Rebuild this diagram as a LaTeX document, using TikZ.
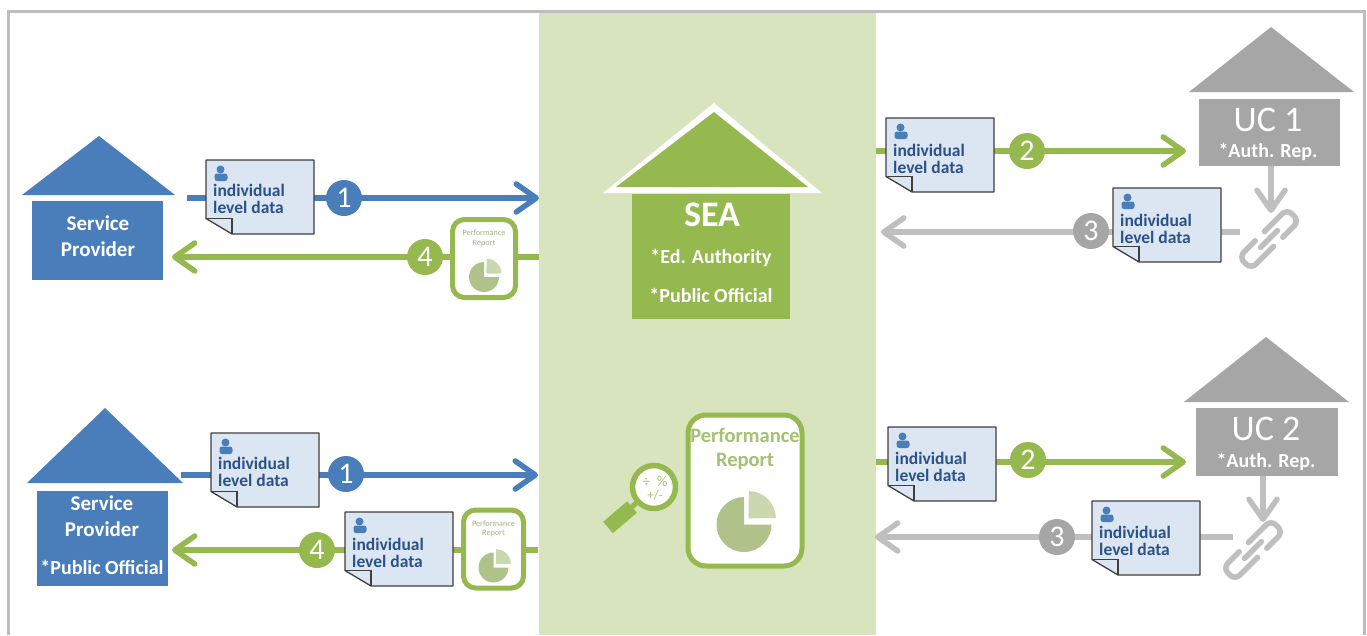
\documentclass[tikz,border=0pt]{standalone}
\usepackage{fontspec}
\setmainfont{Carlito}
\usetikzlibrary{arrows.meta}
\definecolor{bluec}{HTML}{4A7EBB}
\definecolor{greenc}{HTML}{95B84F}
\definecolor{panelc}{HTML}{D7E4BD}
\definecolor{grayc}{HTML}{A6A6A6}
\definecolor{lgrayc}{HTML}{BFBFBF}
\definecolor{framec}{HTML}{BDBDBD}
\definecolor{docc}{HTML}{DCE6F2}
\definecolor{docline}{HTML}{3F3F3F}
\definecolor{doctxt}{HTML}{2B5288}
\definecolor{piedark}{HTML}{AEC28A}
\definecolor{pielight}{HTML}{CAD8B0}
\definecolor{reptxt}{HTML}{A5C172}
\definecolor{smalltxt}{HTML}{A3B28A}
\pgfdeclarelayer{bg}
\pgfdeclarelayer{conn}
\pgfsetlayers{bg,conn,main}
\tikzset{
  x=1pt,y=-1pt,
  conline/.style={line width=5.5pt,-{Straight Barb[length=20pt,width=28pt,round]}},
  badge/.style={circle,minimum size=36pt,inner sep=0pt,text=white,font=\fontsize{30}{30}\selectfont},
  docshape/.style={fill=docc,draw=docline,line width=1.3pt,line join=round},
  doctext/.style={text=doctxt,font=\fontsize{17.5}{18}\selectfont\bfseries,align=left,inner sep=0pt,anchor=west},
  housebox/.style={inner sep=0pt,anchor=north west},
  htext/.style={text=white,inner sep=0pt,font=\fontsize{20}{20}\selectfont\bfseries},
  sptext/.style={text=white,inner sep=0pt,font=\fontsize{21}{21}\selectfont\bfseries},
  repbox/.style={draw=greenc,fill=white,line width=5pt,rounded corners=#1},
  chainlink/.style={draw=lgrayc,line width=5.5pt,rounded corners=7pt,line cap=round},
}
\newcommand{\docbox}[4]{%
  \path[docshape] (#2,#3) -- ++(108,0) -- ++(0,74) -- ++(-82,0) -- ++(-26,-15.5) -- cycle;
  \draw[docline,line width=1.3pt] (#2,#3+58.5) -- ++(26,0) -- ++(0,15.5);
  \fill[bluec] (#2+14.5,#3+9.5) circle[radius=4pt];
  \fill[bluec,rounded corners=2.5pt] (#2+8.5,#3+21) -- ++(0,-7.5) -- ++(13,0) -- ++(0,7.5) -- cycle;
  \node[doctext] (#1) at (#2+7,#3+#4) {individual\\[-0.5pt]level data};
}
\newcommand{\reppie}[3]{%
  \fill[piedark] (#1,#2) -- ++(0:#3 pt) arc[start angle=0,end angle=-270,radius=#3 pt] -- cycle;
  \fill[pielight] (#1+#3*0.16,#2-#3*0.22) -- ++(1:#3 pt) arc[start angle=1,end angle=89,radius=#3 pt] -- cycle;
}
\newcommand{\smallrep}[5]{%
  \node[repbox=12pt,minimum width=#4 pt,minimum height=#5 pt,inner sep=0pt] (#1) at (#2,#3) {};
  \node[text=smalltxt,font=\fontsize{8.2}{9.5}\selectfont,align=center,inner sep=0pt] (#1t) at (#2,#3-20) {Performance\\Report};
  \reppie{#2}{#3+18.5}{15}
}
\newcommand{\chainicon}[3]{%
  \begin{scope}[shift={(#2,#3)},rotate=45]
    \draw[chainlink] (2,-8.5) -- (34,-8.5) -- (34,8.5) -- (11,8.5);
    \draw[chainlink] (-2,8.5) -- (-34,8.5) -- (-34,-8.5) -- (-11,-8.5);
    \draw[chainlink] (-12,0) -- (12,0);
    \coordinate (#1) at (0,0);
  \end{scope}
}
\begin{document}
\begin{tikzpicture}
\useasboundingbox (0,0) rectangle (1367,635);
\begin{pgfonlayer}{bg}
  \fill[white] (0,0) rectangle (1367,635);
  \draw[framec,line width=3.5pt] (8.5,635) -- (8.5,11.5) -- (1364.5,11.5) -- (1364.5,635);
  \fill[panelc] (539,13) rectangle (876,635);
\end{pgfonlayer}

% SEA
\fill[white] (603,193) -- (714,103) -- (822,193) -- cycle;
\fill[greenc] (616,187) -- (714,112) -- (808,187) -- cycle;
\node[housebox,fill=greenc,minimum width=158pt,minimum height=125pt] (sea) at (632,193.5) {};
\node[htext,font=\fontsize{36}{36}\selectfont\bfseries] (seat) at (712,215) {SEA};
\node[htext] (seaa) at (711,258) {*Ed. Authority};
\node[htext] (seab) at (711,295) {*Public Official};

% Service Provider 1
\fill[bluec] (22,195) -- (99,136) -- (175,195) -- cycle;
\node[housebox,fill=bluec,minimum width=131pt,minimum height=79pt] (sp1) at (32,201) {};
\node[sptext] (sp1a) at (98,223) {Service};
\node[sptext] (sp1b) at (98,249) {Provider};

% Service Provider 2
\fill[bluec] (27,483) -- (105,408) -- (183,483) -- cycle;
\node[housebox,fill=bluec,minimum width=131pt,minimum height=95pt] (sp2) at (37,491) {};
\node[sptext] (sp2a) at (102,503) {Service};
\node[sptext] (sp2b) at (102,529) {Provider};
\node[htext] (sp2c) at (102,567) {*Public Official};

% UC 1
\fill[grayc] (1189,92) -- (1271,27) -- (1354,92) -- cycle;
\node[housebox,fill=grayc,minimum width=141pt,minimum height=67pt] (uc1) at (1199,99) {};
\node[htext,font=\fontsize{36}{36}\selectfont] (uc1a) at (1268,120) {UC 1};
\node[htext] (uc1b) at (1268,152) {*Auth. Rep.};

% UC 2
\fill[grayc] (1184,402) -- (1266,337) -- (1349,402) -- cycle;
\node[housebox,fill=grayc,minimum width=142pt,minimum height=68pt] (uc2) at (1196,408) {};
\node[htext,font=\fontsize{36}{36}\selectfont] (uc2a) at (1266,429) {UC 2};
\node[htext] (uc2b) at (1266,462) {*Auth. Rep.};

% chains
\chainicon{chain1}{1269}{239}
\chainicon{chain2}{1253}{550}

% documents
\docbox{d1}{206}{160}{39}
\docbox{d2}{211}{433}{39}
\docbox{d3}{345}{512}{41}
\docbox{d4}{886}{118}{41}
\docbox{d5}{1113}{188}{41}
\docbox{d6}{888}{427}{40}
\docbox{d7}{1092}{501}{40}

% small reports
\smallrep{r1}{484}{258.5}{63}{78}
\smallrep{r2}{493.5}{549}{60}{78}

% badges
\node[badge,fill=bluec] (b1) at (344,198) {1};
\node[badge,fill=greenc] (b2) at (425,257) {4};
\node[badge,fill=bluec] (b3) at (346,474) {1};
\node[badge,fill=greenc] (b4) at (317,550) {4};
\node[badge,fill=greenc] (b5) at (1027,151) {2};
\node[badge,fill=grayc] (b6) at (1091,231) {3};
\node[badge,fill=greenc] (b7) at (1028,460) {2};
\node[badge,fill=grayc] (b8) at (1057,537) {3};

% big report
\node[repbox=18pt,minimum width=114pt,minimum height=151pt,inner sep=0pt] (rep) at (745,490.5) {};
\node[text=reptxt,font=\fontsize{20.5}{24}\selectfont\bfseries,align=center,inner sep=0pt] (rept) at (745,449) {Performance\\Report};
\reppie{744}{524.5}{27.5}

% magnifier
\coordinate (hs) at (632,507);
\coordinate (he) at (608,527.5);
\draw[greenc,line width=5pt] (642,497) -- (hs);
\draw[greenc,line width=15pt] (hs) -- (he);
\node[circle,draw=greenc,fill=white,line width=5.5pt,minimum size=43pt,inner sep=0pt] (mag) at (654,487) {};
\node[text=reptxt,align=center,inner sep=0pt] (magt) at (655,488.5) {\fontsize{15}{15}\selectfont ÷\ \ \%\\[1pt]\fontsize{13}{13}\selectfont +/-};

% connectors
\coordinate (a1s) at (187,198);
\coordinate (a1e) at (539,198);
\coordinate (a2s) at (539,257);
\coordinate (a2e) at (172,257);
\coordinate (a3s) at (181,475);
\coordinate (a3e) at (538,475);
\coordinate (a4s) at (538,550);
\coordinate (a4e) at (172,550);
\coordinate (a5s) at (876,151);
\coordinate (a5e) at (1186,151);
\coordinate (a6s) at (1240,232);
\coordinate (a6e) at (881,232);
\coordinate (a7s) at (876,462);
\coordinate (a7e) at (1186,462);
\coordinate (a8s) at (1233,537);
\coordinate (a8e) at (875,537);
\coordinate (dn1) at (1271,213);
\coordinate (dn2) at (1263,522);
\begin{pgfonlayer}{conn}
  \draw[conline,bluec] (a1s) -- (a1e);
  \draw[conline,greenc] (a2s) -- (a2e);
  \draw[conline,bluec] (a3s) -- (a3e);
  \draw[conline,greenc] (a4s) -- (a4e);
  \draw[conline,greenc] (a5s) -- (a5e);
  \draw[conline,lgrayc] (a6s) -- (a6e);
  \draw[conline,greenc] (a7s) -- (a7e);
  \draw[conline,lgrayc] (a8s) -- (a8e);
  \draw[conline,lgrayc] (uc1.south -| dn1) -- (dn1);
  \draw[conline,lgrayc] (uc2.south -| dn2) -- (dn2);
\end{pgfonlayer}
\end{tikzpicture}
\end{document}
